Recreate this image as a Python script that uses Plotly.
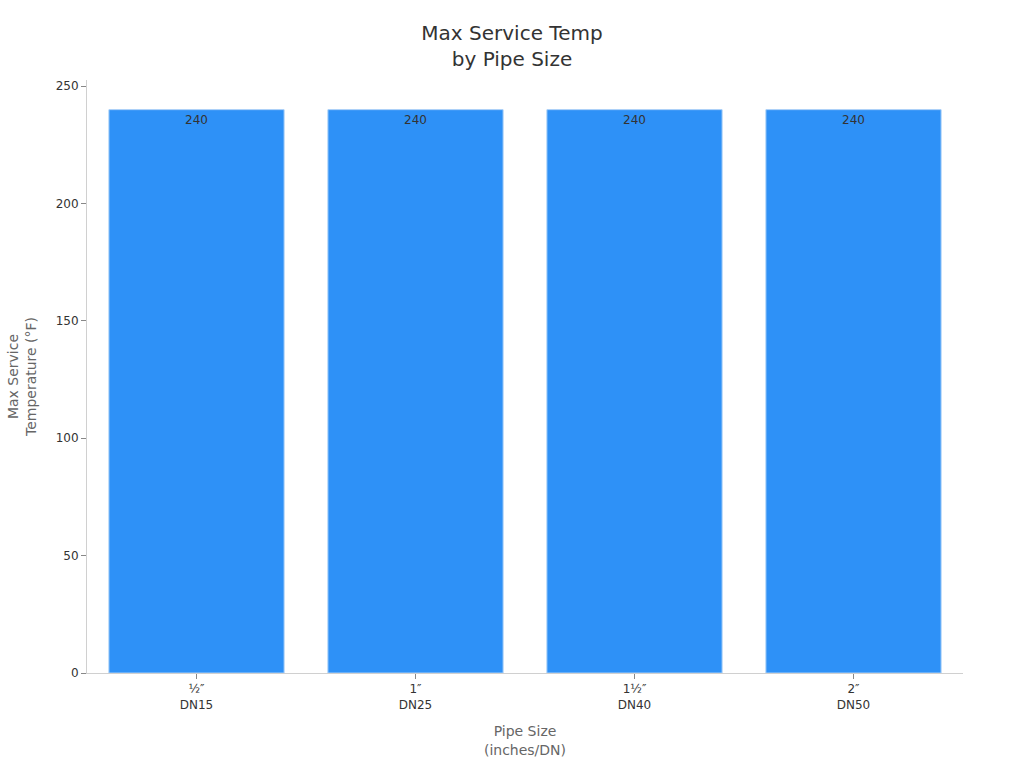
import plotly.graph_objects as go

categories = ["½″<br>DN15", "1″<br>DN25", "1½″<br>DN40", "2″<br>DN50"]
max_temp_f = [240, 240, 240, 240]

fig = go.Figure(
    go.Bar(
        x=categories,
        y=max_temp_f,
        text=[str(v) for v in max_temp_f],
        textposition="inside",
        insidetextanchor="end",
        textfont=dict(color="#333333", size=12),
        marker=dict(color="#2E91F7", line=dict(color="#A8CFF7", width=1)),
        hoverinfo="x+y",
    )
)

fig.update_layout(
    width=1024,
    height=768,
    font=dict(family="DejaVu Sans", color="#333333", size=12),
    title=dict(
        text="Max Service Temp<br>by Pipe Size",
        x=0.5,
        xanchor="center",
        y=0.9485,
        yanchor="top",
        font=dict(size=20, color="#333333"),
    ),
    plot_bgcolor="white",
    paper_bgcolor="white",
    margin=dict(l=87, r=61, t=80, b=95),
    bargap=0.2,
    showlegend=False,
    xaxis=dict(
        title=dict(text="Pipe Size<br>(inches/DN)", font=dict(color="#666666", size=14)),
        showline=True,
        linecolor="#D0D0D0",
        ticks="outside",
        tickcolor="#888888",
        ticklen=5,
        showgrid=False,
        tickfont=dict(size=12, color="#333333"),
    ),
    yaxis=dict(
        title=dict(text="Max Service<br>Temperature (°F)", font=dict(color="#666666", size=14)),
        showline=True,
        linecolor="#D0D0D0",
        ticks="outside",
        tickcolor="#888888",
        ticklen=5,
        showgrid=False,
        zeroline=False,
        tickvals=[0, 50, 100, 150, 200, 250],
        tickfont=dict(size=12, color="#333333"),
    ),
)

fig.write_html(
    "out.html",
    config={"displayModeBar": False},
    post_script="document.body.style.margin='0';",
)
